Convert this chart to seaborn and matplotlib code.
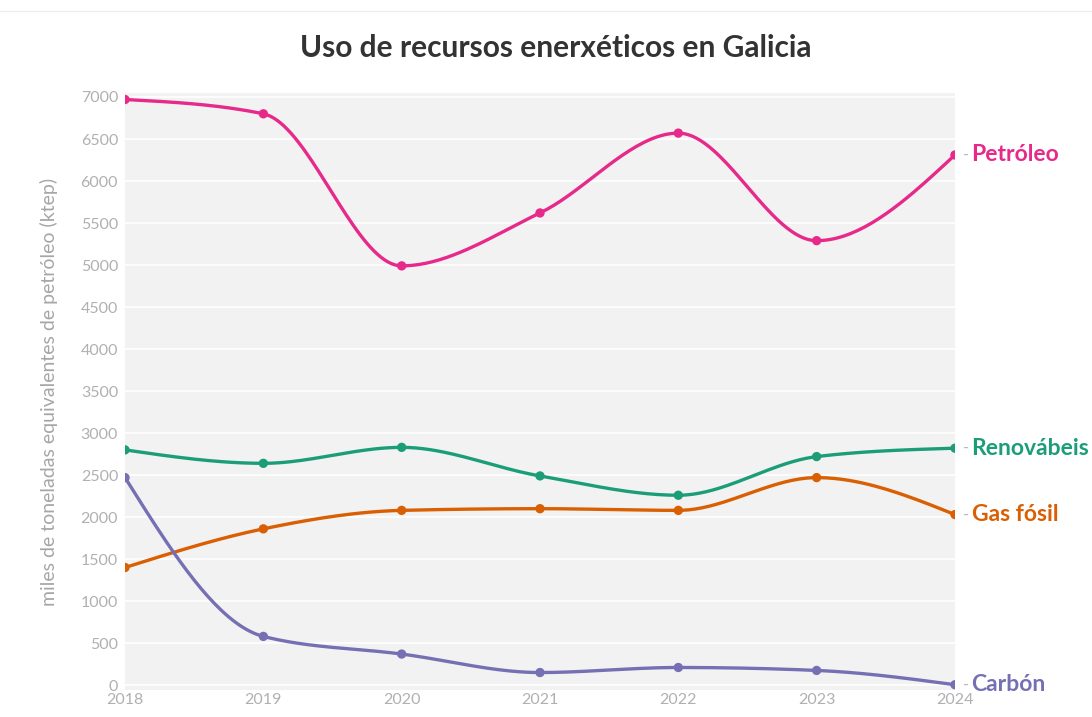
import numpy as np
import pandas as pd
import seaborn as sns
import matplotlib.pyplot as plt

# Data (ktep)
years = [2018, 2019, 2020, 2021, 2022, 2023, 2024]
petroleo = [6970, 6800, 4990, 5620, 6570, 5290, 6310]
renovabeis = [2800, 2640, 2830, 2490, 2260, 2720, 2820]
gas_fosil = [1400, 1860, 2080, 2100, 2080, 2470, 2030]
carbon = [2470, 580, 370, 150, 210, 175, 5]

series = {
    "Petróleo": petroleo,
    "Renovábeis": renovabeis,
    "Gas fósil": gas_fosil,
    "Carbón": carbon,
}
colors = {
    "Petróleo": "#e7298a",
    "Renovábeis": "#1b9e77",
    "Gas fósil": "#d95f02",
    "Carbón": "#7570b3",
}

# Points table
df = pd.DataFrame(
    [(y, name, v) for name, vals in series.items() for y, v in zip(years, vals)],
    columns=["year", "fonte", "ktep"],
)


# Monotone-x curve between the points (same idea as d3.curveMonotoneX)
def smooth(x, y, n=40):
    x = np.asarray(x, float)
    y = np.asarray(y, float)
    h = np.diff(x)
    s = np.diff(y) / h
    m = np.zeros(len(x))
    for i in range(1, len(x) - 1):
        p = (s[i - 1] * h[i] + s[i] * h[i - 1]) / (h[i - 1] + h[i])
        m[i] = (np.sign(s[i - 1]) + np.sign(s[i])) * min(abs(s[i - 1]), abs(s[i]), 0.5 * abs(p))
    m[0] = (3 * s[0] - m[1]) / 2
    m[-1] = (3 * s[-1] - m[-2]) / 2
    t = np.linspace(0, 1, n, endpoint=False)
    xs, ys = [], []
    for i in range(len(x) - 1):
        h00 = 2 * t ** 3 - 3 * t ** 2 + 1
        h10 = t ** 3 - 2 * t ** 2 + t
        h01 = -2 * t ** 3 + 3 * t ** 2
        h11 = t ** 3 - t ** 2
        xs.extend(x[i] + t * h[i])
        ys.extend(h00 * y[i] + h10 * h[i] * m[i] + h01 * y[i + 1] + h11 * h[i] * m[i + 1])
    xs.append(x[-1])
    ys.append(y[-1])
    return xs, ys


curves = []
for name, vals in series.items():
    cx, cy = smooth(years, vals)
    curves.append(pd.DataFrame({"year": cx, "ktep": cy, "fonte": name}))
curve_df = pd.concat(curves, ignore_index=True)

sns.set_theme(style="white")
plt.rcParams["font.family"] = ["Lato", "DejaVu Sans"]

fig = plt.figure(figsize=(10.92, 7.17), dpi=100)
ax = fig.add_axes([0.1145, 0.038, 0.76, 0.832])
ax.set_facecolor("#f2f2f2")

sns.lineplot(data=curve_df, x="year", y="ktep", hue="fonte", palette=colors,
             linewidth=2.4, sort=False, estimator=None, legend=False, ax=ax)
sns.scatterplot(data=df, x="year", y="ktep", hue="fonte", palette=colors,
                s=45, edgecolor="none", legend=False, ax=ax, zorder=5)

ax.set_xlim(2018, 2024)
ax.set_ylim(-55, 7045)
ax.set_xticks(years)
ax.set_yticks(range(0, 7001, 500))
ax.grid(axis="y", color="white", linewidth=1.2)
ax.set_axisbelow(True)
for s in ax.spines.values():
    s.set_visible(False)
ax.tick_params(axis="both", colors="#b0b0b0", labelsize=11.5, length=0, pad=5)
ax.tick_params(axis="x", pad=2)
ax.set_xlabel("")
ax.set_ylabel("miles de toneladas equivalentes de petróleo (ktep)",
              color="#a6a6a6", fontsize=14, labelpad=16)

# Series labels at the right end
for name, vals in series.items():
    ax.annotate("-", xy=(2024, vals[-1]), xytext=(6, 0), textcoords="offset points",
                va="center", ha="left", color="#bbbbbb", fontsize=12,
                annotation_clip=False)
    ax.annotate(name, xy=(2024, vals[-1]), xytext=(12, 0), textcoords="offset points",
                va="center", ha="left", color=colors[name], fontsize=16.5,
                fontweight="bold", annotation_clip=False)

fig.text(0.509, 0.933, "Uso de recursos enerxéticos en Galicia", ha="center",
         va="center", fontsize=21.5, fontweight="bold", color="#333333")
fig.add_artist(plt.Line2D([0, 1], [0.985, 0.985], color="#eeeeee", linewidth=1))

fig.savefig("out.png", dpi=100)
